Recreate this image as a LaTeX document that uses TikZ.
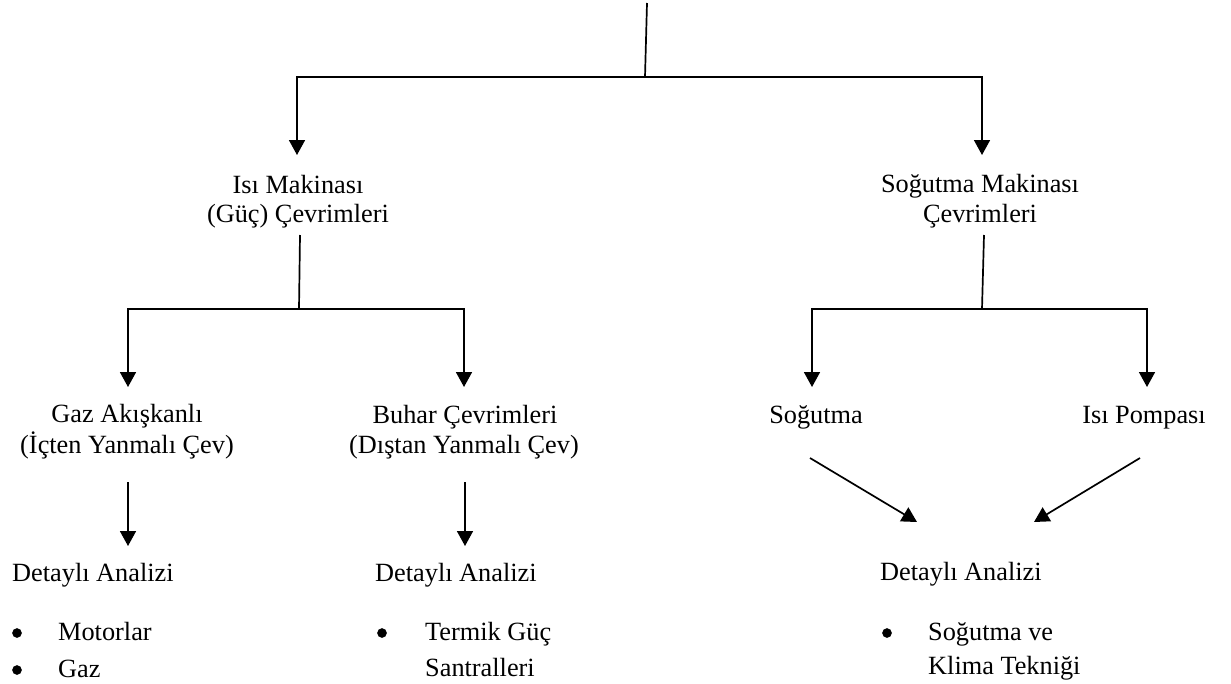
\documentclass[tikz,border=0pt]{standalone}
\usepackage{fontspec}
\setmainfont{Liberation Serif}
\usetikzlibrary{arrows.meta}
\begin{document}
\begin{tikzpicture}[x=1pt,y=-1pt,
  conn/.style={line width=1.7pt},
  arr/.style={conn,-{Triangle[width=16pt,length=15pt]}},
  lbl/.style={inner sep=0pt,anchor=base,font=\fontsize{26.3}{30}\selectfont},
  lbll/.style={lbl,anchor=base west},
  dot/.style={circle,fill=black,draw=black,line width=0.5pt,inner sep=0pt,minimum size=9pt}]
\useasboundingbox (0,0) rectangle (1231,683);
\fill[white] (0,0) rectangle (1231,683);

% cycle families
\node[lbl] (isi1) at (298,193) {Isı Makinası};
\node[lbl] (isi2) at (298,222) {(Güç) Çevrimleri};
\node[lbl] (sog1) at (980,192) {Soğutma Makinası};
\node[lbl] (sog2) at (980,222) {Çevrimleri};

% sub-types
\node[lbl] (gaz1) at (127,422) {Gaz Akışkanlı};
\node[lbl] (gaz2) at (127,453) {(İçten Yanmalı Çev)};
\node[lbl] (buh1) at (465,423) {Buhar Çevrimleri};
\node[lbl] (buh2) at (464,453) {(Dıştan Yanmalı Çev)};
\node[lbl] (sogm) at (816,423) {Soğutma};
\node[lbl] (pomp) at (1144,423) {Isı Pompası};

% detailed analysis blocks
\node[lbll] (det1) at (12,581) {Detaylı Analizi};
\node[lbll] (det2) at (375,581) {Detaylı Analizi};
\node[lbll] (det3) at (880,580) {Detaylı Analizi};

\node[dot]  (b1) at (17,633) {};
\node[lbll] (m1) at (58,640) {Motorlar};
\node[dot]  (b2) at (17,670) {};
\node[lbll] (m2) at (58,677) {Gaz};

\node[dot]  (b3) at (382,633) {};
\node[lbll] (t1) at (425,640) {Termik Güç};
\node[lbll] (t2) at (425,676) {Santralleri};

\node[dot]  (b4) at (887,633) {};
\node[lbll] (k1) at (928,640) {Soğutma ve};
\node[lbll] (k2) at (928,674) {Klima Tekniği};

% connector end points
\coordinate (root)  at (647,3);
\coordinate (j0)    at (645,77);
\coordinate (tisi)  at (297,155);
\coordinate (tsog)  at (982,155);
\coordinate (sisi)  at (300,235);
\coordinate (j1)    at (299,309);
\coordinate (tgaz)  at (128,387);
\coordinate (tbuh)  at (464,387);
\coordinate (ssog)  at (984,235);
\coordinate (j2)    at (982,309);
\coordinate (tsogm) at (812,387);
\coordinate (tpomp) at (1147,387);
\coordinate (sgaz)  at (128,482);
\coordinate (egaz)  at (128,546);
\coordinate (sbuh)  at (465,482);
\coordinate (ebuh)  at (465,546);
\coordinate (ssogm) at (810,458);
\coordinate (esogm) at (917,522);
\coordinate (spomp) at (1140,458);
\coordinate (epomp) at (1034,522);

% tree connectors
\draw[conn] (root) -- (j0);
\draw[arr] (j0) -| (tisi);
\draw[arr] (j0) -| (tsog);

\draw[conn] (sisi) -- (j1);
\draw[arr] (j1) -| (tgaz);
\draw[arr] (j1) -| (tbuh);

\draw[conn] (ssog) -- (j2);
\draw[arr] (j2) -| (tsogm);
\draw[arr] (j2) -| (tpomp);

\draw[arr] (sgaz) -- (egaz);
\draw[arr] (sbuh) -- (ebuh);
\draw[arr] (ssogm) -- (esogm);
\draw[arr] (spomp) -- (epomp);
\end{tikzpicture}
\end{document}
